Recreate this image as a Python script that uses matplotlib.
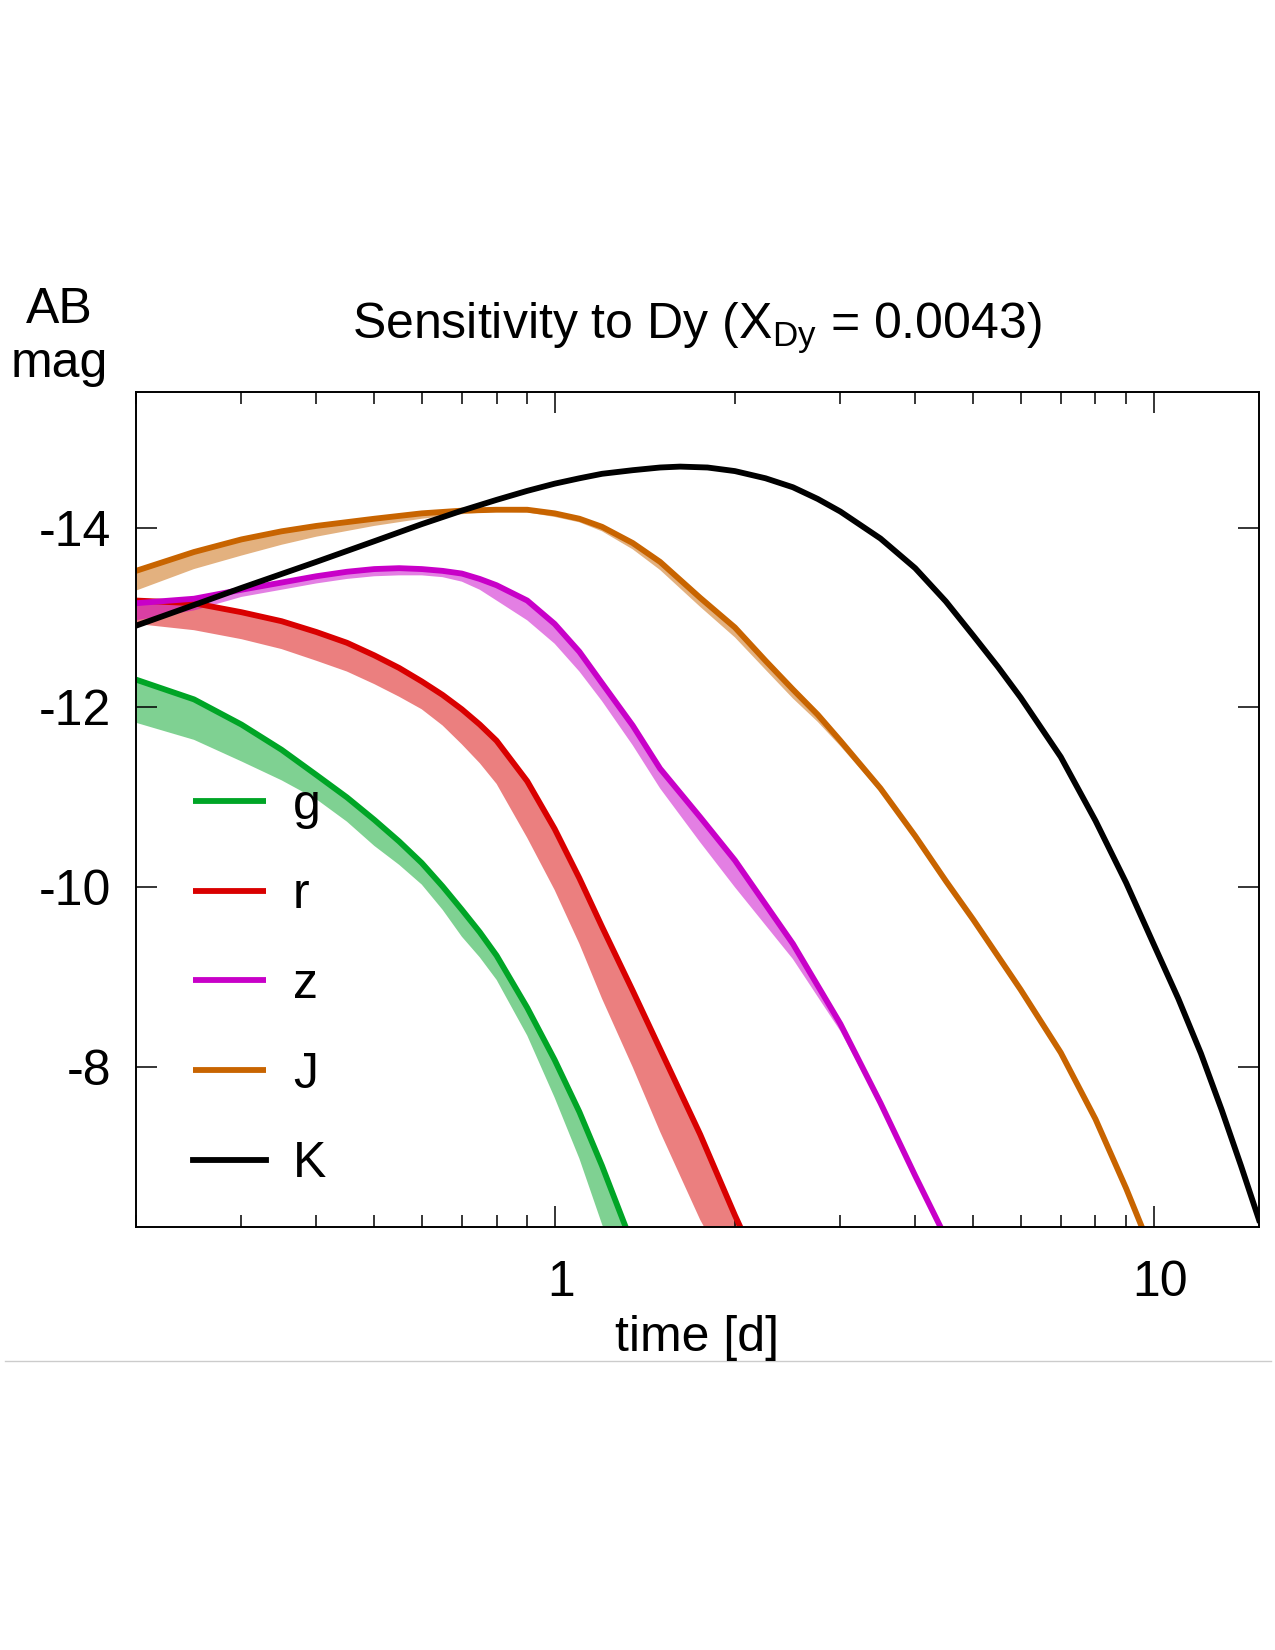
import matplotlib
matplotlib.use("Agg")
import matplotlib.pyplot as plt
from matplotlib.ticker import FixedLocator, LogLocator, NullFormatter
from matplotlib.lines import Line2D
from matplotlib.transforms import ScaledTranslation

plt.rcParams['font.family'] = ['Liberation Sans', 'DejaVu Sans']
plt.rcParams['mathtext.fontset'] = 'custom'
plt.rcParams['mathtext.rm'] = 'Liberation Sans'
plt.rcParams['mathtext.it'] = 'Liberation Sans'

# light curves: time [d], upper (solid) edge, lower band edge [AB mag]
g_t = [0.2, 0.25, 0.3, 0.35, 0.4, 0.45, 0.5, 0.55, 0.6, 0.65, 0.7, 0.75, 0.8, 0.9, 1.0, 1.1, 1.2, 1.3, 1.4]
g_hi = [-12.31, -12.09, -11.81, -11.53, -11.25, -11.00, -10.75, -10.51, -10.27, -10.01, -9.75, -9.50, -9.24,
        -8.66, -8.08, -7.50, -6.90, -6.30, -5.75]
g_lo = [-11.83, -11.64, -11.40, -11.19, -10.98, -10.73, -10.46, -10.25, -10.03, -9.75, -9.45, -9.22, -8.97,
        -8.35, -7.66, -6.98, -6.25, -5.65, -5.10]

r_t = [0.2, 0.25, 0.3, 0.35, 0.4, 0.45, 0.5, 0.55, 0.6, 0.65, 0.7, 0.75, 0.8, 0.9, 1.0, 1.1, 1.2, 1.35, 1.5,
       1.75, 2.0, 2.2]
r_hi = [-13.19, -13.16, -13.06, -12.96, -12.84, -12.72, -12.58, -12.44, -12.29, -12.14, -11.98, -11.81, -11.63,
        -11.18, -10.65, -10.10, -9.56, -8.85, -8.20, -7.25, -6.35, -5.75]
r_lo = [-12.93, -12.86, -12.76, -12.65, -12.52, -12.40, -12.26, -12.12, -11.98, -11.80, -11.59, -11.38, -11.15,
        -10.55, -9.97, -9.37, -8.76, -8.00, -7.28, -6.30, -5.60, -5.00]

z_t = [0.2, 0.25, 0.3, 0.35, 0.4, 0.45, 0.5, 0.55, 0.6, 0.65, 0.7, 0.75, 0.8, 0.9, 1.0, 1.1, 1.2, 1.35, 1.5,
       1.75, 2.0, 2.5, 3.0, 3.5, 4.0, 4.5]
z_hi = [-13.16, -13.21, -13.31, -13.39, -13.46, -13.51, -13.54, -13.55, -13.54, -13.52, -13.49, -13.43, -13.36,
        -13.19, -12.93, -12.62, -12.27, -11.80, -11.32, -10.78, -10.30, -9.37, -8.48, -7.60, -6.79, -6.10]
z_lo = [-12.97, -13.08, -13.23, -13.31, -13.38, -13.43, -13.46, -13.47, -13.47, -13.45, -13.40, -13.31, -13.19,
        -12.97, -12.71, -12.40, -12.07, -11.58, -11.10, -10.50, -10.00, -9.20, -8.40, -7.56, -6.74, -6.06]

J_t = [0.2, 0.25, 0.3, 0.35, 0.4, 0.5, 0.6, 0.7, 0.8, 0.9, 1.0, 1.1, 1.2, 1.35, 1.5, 1.75, 2.0, 2.25, 2.5, 2.75,
       3.0, 3.5, 4.0, 4.5, 5.0, 6.0, 7.0, 8.0, 9.0, 10.0]
J_hi = [-13.52, -13.73, -13.87, -13.96, -14.02, -14.10, -14.16, -14.19, -14.20, -14.20, -14.16, -14.10, -14.01,
        -13.83, -13.62, -13.22, -12.89, -12.52, -12.20, -11.92, -11.63, -11.10, -10.57, -10.07, -9.64, -8.86,
        -8.16, -7.42, -6.65, -5.90]
J_lo = [-13.30, -13.54, -13.69, -13.81, -13.90, -14.02, -14.10, -14.15, -14.18, -14.17, -14.12, -14.06, -13.96,
        -13.76, -13.53, -13.12, -12.78, -12.42, -12.10, -11.84, -11.57, -11.06, -10.54, -10.05, -9.62, -8.85,
        -8.15, -7.41, -6.64, -5.89]

K_t = [0.2, 0.25, 0.3, 0.4, 0.5, 0.6, 0.7, 0.8, 0.9, 1.0, 1.1, 1.2, 1.35, 1.5, 1.62, 1.8, 2.0, 2.25, 2.5, 2.75,
       3.0, 3.5, 4.0, 4.5, 5.0, 5.5, 6.0, 7.0, 8.0, 9.0, 10.0, 11.0, 12.0, 13.0, 14.0, 15.0]
K_mag = [-12.91, -13.14, -13.33, -13.62, -13.85, -14.04, -14.19, -14.31, -14.41, -14.49, -14.55, -14.60, -14.64,
         -14.67, -14.68, -14.67, -14.63, -14.55, -14.45, -14.32, -14.18, -13.88, -13.55, -13.18, -12.80, -12.45,
         -12.11, -11.45, -10.74, -10.05, -9.37, -8.76, -8.15, -7.52, -6.90, -6.30]

bands = ['g', 'r', 'z', 'J', 'K']
colors = ['#00a526', '#d90000', '#c800c8', '#c86400', '#000000']

xticks = [1, 10]
xticklabels = ['1', '10']
yticks = [-14, -12, -10, -8]
yticklabels = ['-14', '-12', '-10', '-8']

W, H = 1275, 1650
fig = plt.figure(figsize=(W / 100, H / 100), dpi=100)
ax = fig.add_axes([136 / W, 1 - 1227 / H, 1123 / W, 835 / H])

fs = 36
lw = 4.2

data = [(g_t, g_hi, g_lo), (r_t, r_hi, r_lo), (z_t, z_hi, z_lo), (J_t, J_hi, J_lo)]
for (t, hi, lo), c, name in zip(data, colors, bands):
    ax.fill(t + t[::-1], hi + lo[::-1], color=c, alpha=0.5, lw=0)
    ax.plot(t, hi, color=c, lw=lw, label=name, solid_capstyle='butt', solid_joinstyle='round')
ax.plot(K_t, K_mag, color=colors[4], lw=lw, label='K', solid_joinstyle='round')

ax.set_xscale('log')
ax.set_xlim(0.2, 15)
ax.set_ylim(-6.22, -15.51)

ax.xaxis.set_major_locator(FixedLocator(xticks))
ax.set_xticklabels(xticklabels)
ax.xaxis.set_minor_locator(LogLocator(base=10, subs=[2, 3, 4, 5, 6, 7, 8, 9]))
ax.xaxis.set_minor_formatter(NullFormatter())
ax.set_yticks(yticks)
ax.set_yticklabels(yticklabels)
ax.tick_params(which='both', direction='in', top=True, right=True, width=1.1)
ax.tick_params(which='major', length=15)
ax.tick_params(which='minor', length=8.5)
ax.tick_params(axis='x', which='major', labelsize=fs, pad=24)
ax.tick_params(axis='y', which='major', labelsize=fs, pad=18)
for lab in ax.get_xticklabels():
    lab.set_transform(lab.get_transform() + ScaledTranslation(0.07, 0, fig.dpi_scale_trans))
for s in ax.spines.values():
    s.set_linewidth(1.4)

ax.legend(loc='center left', bbox_to_anchor=(193 / W, 1 - 985 / H), bbox_transform=fig.transFigure,
          frameon=False, fontsize=fs, handlelength=1.45, handletextpad=0.55, labelspacing=0.87,
          borderpad=0, borderaxespad=0)

fig.text(697 / W, 1 - 328 / H, r'Sensitivity to Dy (X$_{\mathrm{Dy}}$ = 0.0043)', ha='center', va='center', fontsize=fs)
fig.text(59 / W, 1 - 310 / H, 'AB', ha='center', va='center', fontsize=fs)
fig.text(59 / W, 1 - 364 / H, 'mag', ha='center', va='center', fontsize=fs)
fig.text(697 / W, 1 - 1338 / H, 'time [d]', ha='center', va='center', fontsize=fs)

fig.add_artist(Line2D([5 / W, 1271 / W], [1 - 1361 / H, 1 - 1361 / H], color='#cccccc', lw=1))

fig.savefig('out.png', dpi=100)
